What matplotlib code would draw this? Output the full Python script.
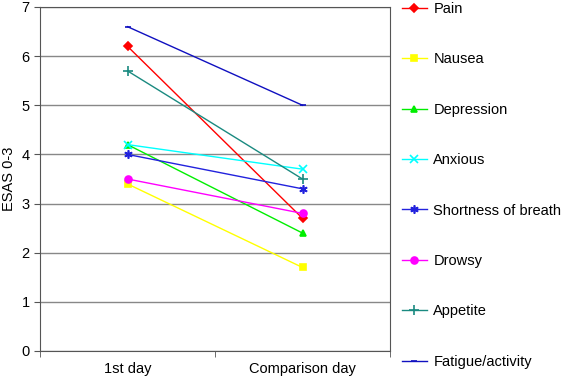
import matplotlib.pyplot as plt

plt.rcParams['font.family'] = ['Liberation Sans', 'DejaVu Sans']

days = ['1st day', 'Comparison day']
symptoms = ['Pain', 'Nausea', 'Depression', 'Anxious', 'Shortness of breath',
            'Drowsy', 'Appetite', 'Fatigue/activity']
pain = [6.2, 2.7]
nausea = [3.4, 1.7]
depression = [4.2, 2.4]
anxious = [4.2, 3.7]
breath = [4.0, 3.3]
drowsy = [3.5, 2.8]
appetite = [5.7, 3.5]
fatigue = [6.6, 5.0]

series = [pain, nausea, depression, anxious, breath, drowsy, appetite, fatigue]
colors = ['#FF0000', '#FFFF00', '#00EE00', '#00FFFF', '#2222DD',
          '#FF00FF', '#1A8A80', '#1010C0']
markers = ['D', 's', '^', 'x', (6, 2, 0), 'o', '+', '_']
msizes = [4, 5, 5, 6, 6, 5, 7, 5]

fig = plt.figure(figsize=(5.62, 3.76), dpi=100)
ax = fig.add_axes([40 / 562, 25 / 376, 350 / 562, 344 / 376])

x = range(len(days))
for vals, name, c, m, ms in zip(series, symptoms, colors, markers, msizes):
    ax.plot(x, vals, color=c, marker=m, markersize=ms, linewidth=1,
            markeredgewidth=1.2, label=name)

ax.set_xlim(-0.5, 1.5)
ax.set_ylim(0, 7)
ax.set_yticks(range(8))
ax.set_xticks([0, 1])
ax.set_xticklabels(days, fontsize=10.5)
ax.set_xticks([-0.5, 0.5, 1.5], minor=True)
ax.tick_params(axis='x', which='major', length=0, pad=8)
ax.tick_params(axis='x', which='minor', length=4, color='#555555')
ax.tick_params(axis='y', length=4, labelsize=10.5, color='#555555')
ax.yaxis.grid(True, color='#888888', linewidth=1)
ax.set_axisbelow(True)
for s in ax.spines.values():
    s.set_color('#555555')
ax.set_ylabel('ESAS 0-3', fontsize=10.5, labelpad=4)

ax.legend(loc='upper left', bbox_to_anchor=(1.005, 1.045), frameon=False,
          fontsize=10.5, labelspacing=2.5, handlelength=1.7, handletextpad=0.45,
          borderaxespad=0.3)

fig.savefig('out.png', dpi=100)
